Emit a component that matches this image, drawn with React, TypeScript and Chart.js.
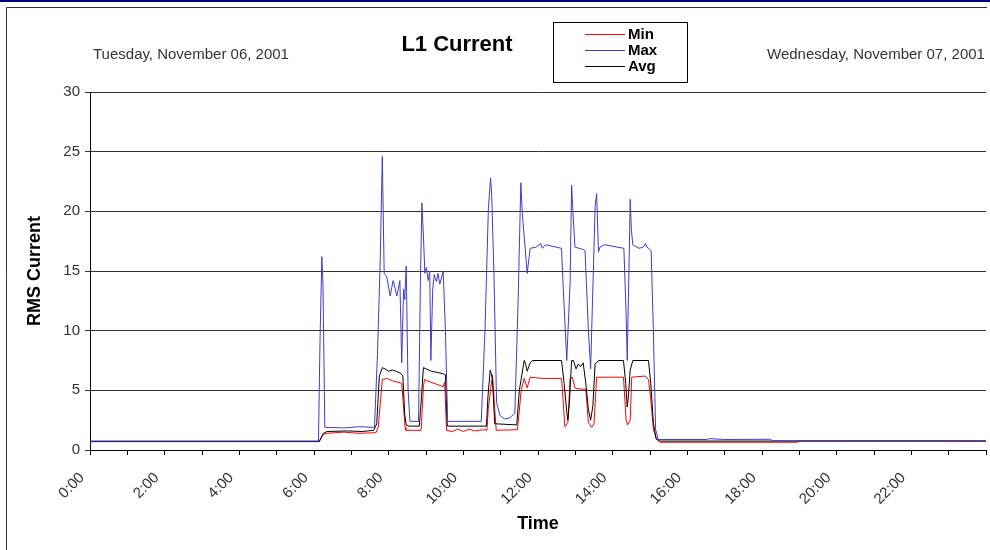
import React, { useEffect, useRef } from 'react';
import { Chart, registerables } from 'chart.js';

Chart.register(...registerables);

const TITLE = 'L1 Current';
const DATE_LEFT = 'Tuesday, November 06, 2001';
const DATE_RIGHT = 'Wednesday, November 07, 2001';
const Y_TITLE = 'RMS Current';
const X_TITLE = 'Time';
const SERIES_LABELS = ['Min', 'Max', 'Avg'];
const SERIES_COLORS = ['#ff0000', '#3d3dc8', '#000000'];
const HOUR_LABELS = ['0:00', '2:00', '4:00', '6:00', '8:00', '10:00', '12:00', '14:00', '16:00', '18:00', '20:00', '22:00'];
const Y_MIN = 0;
const Y_MAX = 30;
const Y_STEP = 5;

// time in hours, value in RMS current
const maxTimes = [0, 6.12, 6.16, 6.21, 6.24, 6.29, 6.8, 7.2, 7.62, 7.7, 7.77, 7.83, 7.88, 7.95, 8.04, 8.12, 8.22, 8.3, 8.35, 8.4, 8.43, 8.47, 8.52, 8.57, 8.8, 8.85, 8.89, 8.93, 8.97, 9.01, 9.06, 9.1, 9.13, 9.18, 9.22, 9.28, 9.32, 9.37, 9.46, 9.52, 9.58, 10.48, 10.58, 10.67, 10.73, 10.76, 10.82, 10.89, 10.98, 11.1, 11.25, 11.38, 11.47, 11.54, 11.58, 11.71, 11.79, 11.95, 12.07, 12.12, 12.2, 12.63, 12.67, 12.77, 12.86, 12.9, 12.94, 12.99, 13.21, 13.26, 13.35, 13.41, 13.53, 13.57, 13.62, 13.66, 13.78, 14.3, 14.36, 14.39, 14.44, 14.47, 14.5, 14.54, 14.7, 14.82, 14.88, 14.92, 14.96, 15.03, 15.09, 15.15, 15.22, 16.5, 16.6, 17.0, 18.2, 18.3, 24];
const maxValues = [0.75, 0.75, 9.0, 16.2, 14.0, 1.9, 1.85, 1.95, 1.9, 8.0, 15.4, 24.6, 14.8, 14.5, 12.9, 14.2, 12.9, 14.2, 7.3, 13.5, 12.6, 15.4, 5.0, 2.4, 2.4, 14.0, 20.7, 18.0, 14.8, 15.3, 14.2, 15.0, 7.5, 13.5, 14.7, 14.1, 14.8, 13.9, 15.0, 10.0, 2.4, 2.4, 10.0, 20.2, 22.8, 21.3, 14.8, 4.0, 2.9, 2.6, 2.7, 3.1, 12.8, 22.4, 19.8, 14.8, 16.9, 17.0, 17.3, 16.9, 17.2, 16.9, 14.0, 7.5, 14.0, 22.2, 19.7, 17.0, 16.8, 16.7, 10.0, 6.8, 20.4, 21.5, 16.6, 17.0, 17.2, 16.9, 11.5, 7.5, 15.7, 21.0, 18.5, 17.2, 16.9, 17.0, 17.3, 17.0, 16.9, 16.7, 10.0, 1.7, 0.88, 0.88, 0.95, 0.88, 0.9, 0.78, 0.75];

const avgTimes = [0, 6.14, 6.25, 6.35, 6.9, 7.3, 7.6, 7.68, 7.75, 7.83, 7.9, 8.0, 8.1, 8.2, 8.33, 8.38, 8.43, 8.47, 8.55, 8.82, 8.88, 8.93, 9.0, 9.15, 9.3, 9.45, 9.52, 9.57, 10.62, 10.66, 10.72, 10.78, 10.84, 11.43, 11.5, 11.63, 11.67, 11.71, 11.79, 11.85, 12.63, 12.7, 12.77, 12.8, 12.84, 12.9, 12.95, 13.02, 13.08, 13.14, 13.21, 13.28, 13.35, 13.41, 13.47, 13.53, 13.62, 14.29, 14.35, 14.39, 14.42, 14.47, 14.54, 14.96, 15.02, 15.09, 15.16, 15.26, 24];
const avgValues = [0.72, 0.72, 1.4, 1.55, 1.6, 1.55, 1.65, 2.2, 6.2, 6.9, 6.8, 6.6, 6.7, 6.6, 6.4, 6.2, 3.0, 2.1, 2.0, 2.0, 4.5, 6.9, 6.8, 6.6, 6.5, 6.4, 6.3, 2.0, 2.0, 4.5, 6.7, 6.0, 2.2, 2.1, 5.0, 7.5, 7.2, 6.6, 7.3, 7.5, 7.5, 5.6, 3.2, 2.5, 3.9, 7.5, 7.5, 6.8, 7.2, 7.0, 7.3, 5.6, 3.4, 2.5, 3.7, 7.2, 7.5, 7.5, 5.6, 3.6, 4.5, 6.7, 7.5, 7.5, 5.6, 2.3, 0.95, 0.75, 0.75];

const minTimes = [0, 6.14, 6.25, 6.35, 6.8, 7.2, 7.66, 7.72, 7.83, 7.95, 8.1, 8.35, 8.44, 8.46, 8.87, 8.93, 8.96, 9.11, 9.29, 9.46, 9.5, 9.55, 9.7, 9.85, 10.0, 10.15, 10.3, 10.55, 10.63, 10.67, 10.78, 10.88, 11.45, 11.55, 11.63, 11.71, 11.79, 12.1, 12.63, 12.67, 12.72, 12.8, 12.86, 12.92, 12.99, 13.13, 13.28, 13.35, 13.44, 13.5, 13.57, 14.29, 14.36, 14.4, 14.47, 14.51, 14.87, 14.96, 15.02, 15.09, 15.18, 15.26, 18.95, 19.0, 24];
const minValues = [0.7, 0.7, 1.3, 1.4, 1.5, 1.4, 1.45, 1.9, 5.9, 6.0, 5.8, 5.6, 1.9, 1.65, 1.65, 5.3, 5.9, 5.7, 5.5, 5.3, 5.7, 1.65, 1.55, 1.75, 1.55, 1.75, 1.6, 1.7, 1.65, 3.5, 6.3, 1.65, 1.7, 5.0, 6.0, 5.2, 6.1, 6.0, 6.0, 4.3, 1.95, 2.3, 6.0, 6.1, 5.2, 5.1, 5.1, 2.3, 1.9, 2.2, 6.1, 6.1, 2.5, 2.1, 2.5, 6.1, 6.2, 5.9, 4.3, 1.7, 0.9, 0.65, 0.65, 0.76, 0.76];

const toPoints = (times: number[], values: number[]) => times.map((t, i) => ({ x: t, y: values[i] }));

const FONT = '"Liberation Sans", Arial, Helvetica, sans-serif';

const decorPlugin = {
  id: 'decor',
  afterDraw(chart: any) {
    const ctx = chart.ctx as CanvasRenderingContext2D;
    ctx.save();
    // top navy rule and frame
    ctx.fillStyle = '#000080';
    ctx.fillRect(0, 0, 990, 2);
    ctx.strokeStyle = '#333';
    ctx.lineWidth = 1;
    ctx.beginPath();
    ctx.moveTo(6.5, 550);
    ctx.lineTo(6.5, 7.5);
    ctx.lineTo(987, 7.5);
    ctx.stroke();

    // dates
    ctx.font = `15px ${FONT}`;
    ctx.fillStyle = '#333';
    ctx.textBaseline = 'middle';
    ctx.textAlign = 'left';
    ctx.fillText(DATE_LEFT, 93, 55);
    ctx.fillText(DATE_RIGHT, 767, 55);

    // title
    ctx.font = `bold 22px ${FONT}`;
    ctx.fillStyle = '#000';
    ctx.textAlign = 'center';
    ctx.fillText(TITLE, 457, 45);

    // legend
    ctx.fillStyle = '#fff';
    ctx.fillRect(553, 22, 134, 60);
    ctx.strokeStyle = '#000';
    ctx.strokeRect(553.5, 22.5, 134, 60);
    const rows = [34, 50, 66];
    chart.data.datasets.forEach((ds: any, i: number) => {
      const y = rows[i];
      ctx.strokeStyle = ds.borderColor;
      ctx.beginPath();
      ctx.moveTo(585, y + 0.5);
      ctx.lineTo(625, y + 0.5);
      ctx.stroke();
      ctx.font = `bold 15px ${FONT}`;
      ctx.fillStyle = '#000';
      ctx.textAlign = 'left';
      ctx.fillText(ds.label, 628, y + 1);
    });
    ctx.restore();
  },
};

export default function App() {
  const ref = useRef<HTMLCanvasElement | null>(null);
  useEffect(() => {
    document.body.style.margin = '0';
    const canvas = ref.current!;
    const datasets = [
      { label: SERIES_LABELS[0], data: toPoints(minTimes, minValues), borderColor: SERIES_COLORS[0], order: 2 },
      { label: SERIES_LABELS[1], data: toPoints(maxTimes, maxValues), borderColor: SERIES_COLORS[1], order: 0 },
      { label: SERIES_LABELS[2], data: toPoints(avgTimes, avgValues), borderColor: SERIES_COLORS[2], order: 1 },
    ].map((d) => ({ ...d, borderWidth: 1, pointRadius: 0, tension: 0, fill: false }));

    const chart = new Chart(canvas, {
      type: 'line',
      data: { datasets },
      plugins: [decorPlugin],
      options: {
        animation: false,
        responsive: false,
        devicePixelRatio: 1,
        layout: { padding: { top: 92, right: 4, left: 0, bottom: 0 } },
        plugins: { legend: { display: false }, tooltip: { enabled: false }, title: { display: false } },
        scales: {
          x: {
            type: 'linear',
            min: 0,
            max: 24,
            afterFit(scale: any) {
              scale.height = 100;
              scale.paddingLeft = 0;
              scale.paddingRight = 0;
            },
            ticks: {
              stepSize: 1,
              autoSkip: false,
              minRotation: 45,
              maxRotation: 45,
              padding: 14,
              labelOffset: -8,
              color: '#333',
              font: { family: FONT, size: 15 },
              callback: (v: any) => {
                const n = Number(v);
                return n % 2 === 0 && n < 24 ? HOUR_LABELS[n / 2] : '';
              },
            },
            grid: { drawOnChartArea: false, drawTicks: true, tickLength: 5, color: '#000' },
            border: { display: true, color: '#000', width: 1 },
            title: {
              display: true,
              text: X_TITLE,
              color: '#000',
              font: { family: FONT, size: 18, weight: 'bold' },
              padding: { top: 0, bottom: 15 },
            },
          },
          y: {
            min: Y_MIN,
            max: Y_MAX,
            afterFit(scale: any) {
              scale.width = 90;
            },
            ticks: {
              stepSize: Y_STEP,
              padding: 5,
              color: '#333',
              font: { family: FONT, size: 15 },
            },
            grid: { color: '#333', lineWidth: 1, tickLength: 5 },
            border: { display: true, color: '#000', width: 1 },
            title: {
              display: true,
              text: Y_TITLE,
              color: '#000',
              font: { family: FONT, size: 18, weight: 'bold' },
              padding: { top: 24, bottom: 0 },
            },
          },
        },
      },
    });
    return () => chart.destroy();
  }, []);
  return (
    <div style={{ width: 990, height: 550, background: '#fff' }}>
      <canvas ref={ref} width={990} height={550} style={{ display: 'block' }} />
    </div>
  );
}
